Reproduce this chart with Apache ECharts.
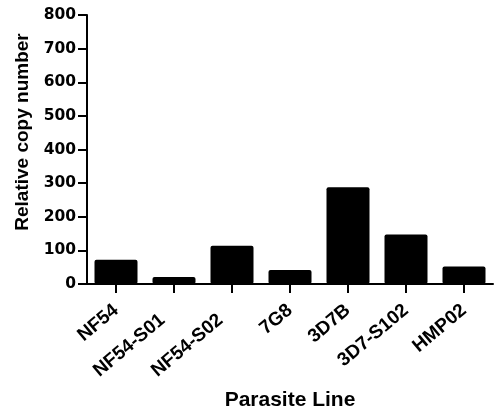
<!DOCTYPE html>
<html>
<head>
<meta charset="utf-8">
<script src="https://cdn.jsdelivr.net/npm/echarts@6/dist/echarts.min.js"></script>
<style>
html,body{margin:0;padding:0;background:#fff;}
#c{width:496px;height:416px;}
</style>
</head>
<body>
<div id="c"></div>
<script>
var categories = ['NF54', 'NF54-S01', 'NF54-S02', '7G8', '3D7B', '3D7-S102', 'HMP02'];
var copyNumber = [72, 21, 114, 42, 288, 147, 52];
var yTicks = { min: 0, max: 800, interval: 100 };

var chart = echarts.init(document.getElementById('c'), null, { renderer: 'canvas' });
var sans = 'Liberation Sans, Arial, sans-serif';
var wide = 'DejaVu Sans';
var labelFont = { fontFamily: sans, fontWeight: 'bold', fontSize: 19, color: '#000' };
chart.setOption({
  animation: false,
  backgroundColor: '#ffffff',
  grid: { left: 87, right: 3, top: 15, bottom: 131, containLabel: false },
  xAxis: {
    type: 'category',
    data: categories,
    name: 'Parasite Line',
    nameLocation: 'middle',
    nameGap: 106,
    nameTextStyle: { fontFamily: sans, fontWeight: 'bold', fontSize: 21, color: '#000', padding: [0, 0, 0, 0] },
    axisLine: { lineStyle: { color: '#000', width: 2 } },
    axisTick: { show: true, alignWithLabel: true, length: 9, lineStyle: { color: '#000', width: 2 } },
    axisLabel: {
      rotate: 40, margin: 24, align: 'right',
      fontFamily: sans, fontWeight: 'bold', fontSize: 19, color: '#000', interval: 0,
      formatter: function (v) { return v.indexOf('NF54-') === 0 ? '{p|' + v + '}' : v; },
      rich: { p: Object.assign({ padding: [0, 15, 0, 0] }, labelFont) }
    },
    splitLine: { show: false }
  },
  yAxis: {
    type: 'value',
    min: yTicks.min,
    max: yTicks.max,
    interval: yTicks.interval,
    name: 'Relative copy number',
    nameLocation: 'middle',
    nameGap: 55,
    nameTextStyle: { fontFamily: sans, fontWeight: 'bold', fontSize: 19, color: '#000', padding: [0, 0, 0, 35] },
    axisLine: { show: true, lineStyle: { color: '#000', width: 2 } },
    axisTick: { show: true, length: 9, lineStyle: { color: '#000', width: 2 } },
    axisLabel: { margin: 11, fontFamily: wide, fontWeight: 'bold', fontSize: 15.5, color: '#000' },
    splitLine: { show: false }
  },
  series: [{
    type: 'bar',
    data: copyNumber,
    barWidth: 43,
    itemStyle: { color: '#000', borderRadius: 2 }
  }]
});
</script>
</body>
</html>
